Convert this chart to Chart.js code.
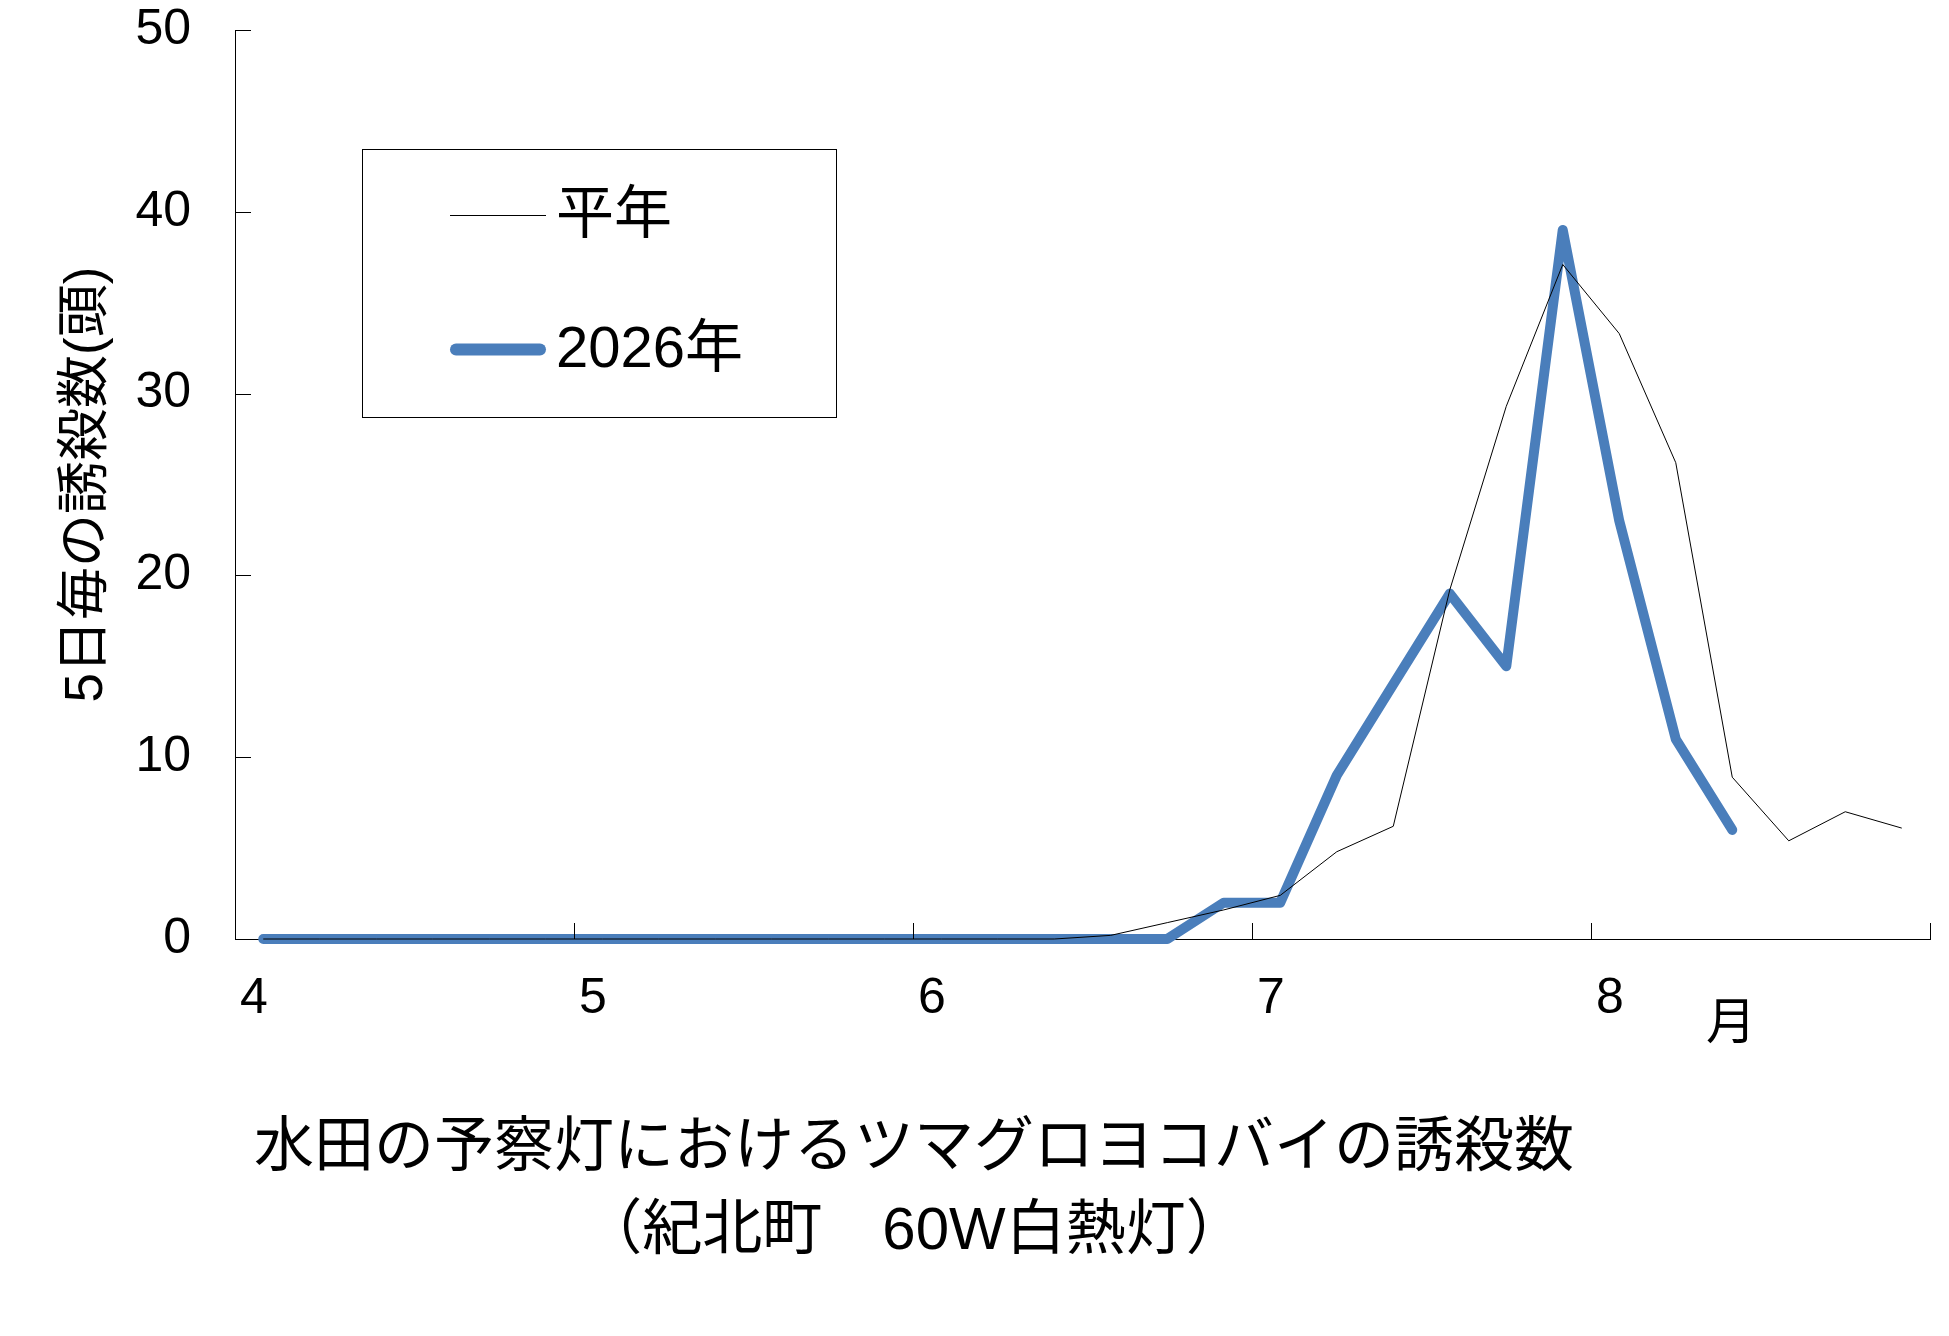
<!DOCTYPE html>
<html lang="ja">
<head>
<meta charset="utf-8">
<title>水田の予察灯におけるツマグロヨコバイの誘殺数</title>
<script src="https://cdn.jsdelivr.net/npm/chart.js@4.4.1/dist/chart.umd.min.js"></script>
<style>
  html, body { margin: 0; padding: 0; background: #fff; }
  #wrap { position: relative; width: 1949px; height: 1336px; }
</style>
</head>
<body>
<div id="wrap"><canvas id="trapChart"></canvas></div>
<script>
// 5日毎（半旬）の区分: 4月〜8月 各6半旬 = 30区分
const monthLabels = ['4', '5', '6', '7', '8'];
const periodsPerMonth = 6;

// 平年値
const normalCounts = [
    0, 0, 0, 0, 0, 0,
    0, 0, 0, 0, 0, 0,
    0, 0, 0, 0.2, 0.9, 1.6,
    2.4, 4.8, 6.2, 19.2, 29.3, 37.1,
    33.3, 26.2, 8.9, 5.4, 7.0, 6.1
];

// 2026年 (8月第3半旬まで)
const thisYearCounts = [
    0, 0, 0, 0, 0, 0,
    0, 0, 0, 0, 0, 0,
    0, 0, 0, 0, 0, 2,
    2, 9, 14, 19, 15, 39,
    23, 11, 6, null, null, null
];

const seriesNames = ['平年', '2026年'];
const yTicks = { min: 0, max: 50, step: 10 };

const BLUE = '#4A7EBB';
const LATIN_CJK = "'Liberation Sans', 'Noto Sans CJK JP', sans-serif";
const CJK = "'Noto Sans CJK JP', sans-serif";

// put each value in the middle of its 5-day slot
function toPoints(values) {
    return values.map((v, i) => ({ x: i + 0.5, y: v }));
}

// tick marks pointing into the plot, like the original spreadsheet chart
const innerTicks = {
    id: 'innerTicks',
    afterDraw(chart) {
        const { ctx, scales: { x, y } } = chart;
        const len = 16;
        ctx.save();
        ctx.strokeStyle = '#000';
        ctx.lineWidth = 1;
        ctx.beginPath();
        y.ticks.forEach(t => {
            const py = Math.round(y.getPixelForValue(t.value)) + 0.5;
            ctx.moveTo(x.left, py);
            ctx.lineTo(x.left + len, py);
        });
        x.ticks.forEach(t => {
            const px = Math.round(x.getPixelForValue(t.value)) + 0.5;
            ctx.moveTo(px, y.bottom);
            ctx.lineTo(px, y.bottom - len);
        });
        ctx.stroke();
        ctx.restore();
    }
};

// boxed legend inside the plot plus the caption texts
const overlayText = {
    id: 'overlayText',
    afterDraw(chart) {
        const ctx = chart.ctx;
        ctx.save();

        // legend box
        ctx.strokeStyle = '#000';
        ctx.lineWidth = 1;
        ctx.strokeRect(362.5, 149.5, 474, 268);

        const rows = [215, 349];
        chart.data.datasets.forEach((ds, i) => {
            ctx.beginPath();
            ctx.strokeStyle = ds.borderColor;
            ctx.lineWidth = ds.borderWidth > 2 ? ds.borderWidth + 2 : ds.borderWidth;
            ctx.lineCap = ds.borderCapStyle || 'butt';
            const inset = ctx.lineCap === 'round' ? ctx.lineWidth / 2 : 0;
            ctx.moveTo(450 + inset, rows[i] + 0.5);
            ctx.lineTo(546 - inset, rows[i] + 0.5);
            ctx.stroke();

            ctx.fillStyle = '#000';
            ctx.font = `58px ${LATIN_CJK}`;
            ctx.textAlign = 'left';
            ctx.textBaseline = 'middle';
            ctx.fillText(ds.label, 556, rows[i] + 2);
        });

        // 月 unit after the last month label
        ctx.font = `50px ${CJK}`;
        ctx.textAlign = 'center';
        ctx.fillText('月', 1731, 1020);

        // caption
        ctx.font = `60px ${LATIN_CJK}`;
        ctx.fillText('水田の予察灯におけるツマグロヨコバイの誘殺数', 914, 1149);
        ctx.fillText('（紀北町　60W白熱灯）', 914, 1232);

        ctx.restore();
    }
};

document.addEventListener('DOMContentLoaded', () => {
    const ctx = document.getElementById('trapChart').getContext('2d');
    new Chart(ctx, {
        type: 'line',
        data: {
            datasets: [
                {
                    label: seriesNames[0],
                    data: toPoints(normalCounts),
                    borderColor: '#000',
                    borderWidth: 1,
                    tension: 0,
                    pointRadius: 0,
                    clip: false
                },
                {
                    label: seriesNames[1],
                    data: toPoints(thisYearCounts),
                    borderColor: BLUE,
                    borderWidth: 10,
                    borderCapStyle: 'round',
                    borderJoinStyle: 'round',
                    tension: 0,
                    pointRadius: 0,
                    spanGaps: false,
                    clip: false
                }
            ]
        },
        options: {
            responsive: true,
            maintainAspectRatio: false,
            animation: false,
            layout: { padding: { left: 0, top: 30, right: 19, bottom: 0 } },
            plugins: {
                legend: { display: false },
                tooltip: { enabled: false }
            },
            scales: {
                x: {
                    type: 'linear',
                    min: 0,
                    max: monthLabels.length * periodsPerMonth,
                    afterFit: s => {
                        s.height = 397;
                        s.paddingLeft = 0;
                        s.paddingRight = 0;
                    },
                    afterBuildTicks: s => {
                        s.ticks = [];
                        for (let m = 0; m <= monthLabels.length; m++) {
                            s.ticks.push({ value: m * periodsPerMonth });
                        }
                    },
                    grid: { drawOnChartArea: false, drawTicks: false },
                    border: { color: '#000', width: 1 },
                    ticks: {
                        autoSkip: false,
                        maxRotation: 0,
                        padding: 30,
                        labelOffset: 19,
                        color: '#000',
                        font: { family: LATIN_CJK, size: 50 },
                        callback: v => monthLabels[v / periodsPerMonth] || ''
                    }
                },
                y: {
                    min: yTicks.min,
                    max: yTicks.max,
                    afterFit: s => {
                        s.width = 235;
                        s.paddingTop = 0;
                        s.paddingBottom = 0;
                    },
                    grid: { drawOnChartArea: false, drawTicks: false },
                    border: { color: '#000', width: 1 },
                    ticks: {
                        stepSize: yTicks.step,
                        padding: 44,
                        color: '#000',
                        font: { family: LATIN_CJK, size: 50 }
                    },
                    title: {
                        display: true,
                        text: '5日毎の誘殺数(頭)',
                        color: '#000',
                        font: { family: LATIN_CJK, size: 53 },
                        padding: { top: 56, bottom: 0 }
                    }
                }
            }
        },
        plugins: [innerTicks, overlayText]
    });
});
</script>
</body>
</html>
